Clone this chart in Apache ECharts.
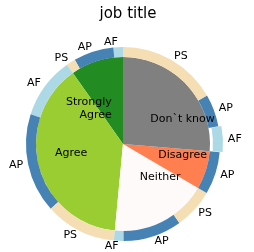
<!DOCTYPE html>
<html>
<head>
<meta charset="utf-8">
<script src="https://cdn.jsdelivr.net/npm/echarts@6/dist/echarts.min.js"></script>
<style>
  html, body { margin: 0; padding: 0; background: #fff; }
  #chart { width: 254px; height: 252px; }
</style>
</head>
<body>
<div id="chart"></div>
<script>
// answers, counter clockwise from 12 o'clock
var answers = ["Strongly\nAgree", "Agree", "Neither", "Disagree", "Don`t know"];
var answerColors = ["#228b22", "#9acd32", "#fffafa", "#ff7f50", "#808080"];

// job title split of every answer (% of respondents)
var jobTitles = ["AF", "AP", "PS"];
var jobColors = ["#add8e6", "#4682b4", "#f5deb3"];
var afShare = [1.6, 10.3, 1.6, 0, 4.3];
var apShare = [6.7, 16.6, 9.8, 7.1, 5.4];
var psShare = [1.5, 11.9, 6.7, 0, 16.7];

// the wedge that is pulled out
var explodeAnswer = 4;
var explodeJob = 0;

var CX = 123, CY = 144, R_IN = 87, R_OUT = 97;
var FONT = "DejaVu Sans";

var shares = [afShare, apShare, psShare];

var innerData = answers.map(function (a, i) {
  return {
    name: a,
    value: afShare[i] + apShare[i] + psShare[i],
    itemStyle: { color: answerColors[i] }
  };
});

// names must be unique or selecting one wedge selects every wedge with that name
var outerData = [];
var outerJob = [];
answers.forEach(function (a, i) {
  jobTitles.forEach(function (j, k) {
    var v = shares[k][i];
    if (!v) return;
    outerJob.push(j);
    outerData.push({
      name: a + " / " + j,
      value: v,
      selected: i === explodeAnswer && k === explodeJob,
      itemStyle: { color: jobColors[k] }
    });
  });
});

var chart = echarts.init(document.getElementById("chart"), null, { renderer: "canvas" });

chart.setOption({
  animation: false,
  title: {
    text: "job title",
    left: CX,
    textAlign: "center",
    top: 2,
    textStyle: { fontFamily: FONT, fontSize: 15, fontWeight: "normal", color: "#000" }
  },
  series: [
    {
      type: "pie",
      center: [CX, CY],
      radius: [0, R_IN],
      startAngle: 90,
      clockwise: false,
      silent: true,
      label: { show: false },
      labelLine: { show: false },
      emphasis: { disabled: true },
      data: innerData
    },
    {
      // invisible copy that only carries the answer labels
      type: "pie",
      center: [CX, CY],
      radius: [0, 68],
      startAngle: 90,
      clockwise: false,
      silent: true,
      itemStyle: { color: "rgba(0,0,0,0)" },
      label: {
        show: true,
        position: "inside",
        formatter: "{b}",
        fontFamily: FONT,
        fontSize: 11,
        color: "#000",
        lineHeight: 13
      },
      labelLayout: function (p) {
        var ax = p.labelRect.x + p.labelRect.width / 2;
        return { align: ax < CX ? "right" : "left" };
      },
      emphasis: { disabled: true },
      data: innerData.map(function (d) { return { name: d.name, value: d.value }; })
    },
    {
      type: "pie",
      center: [CX, CY],
      radius: [R_IN, R_OUT],
      startAngle: 90,
      clockwise: false,
      selectedMode: "multiple",
      selectedOffset: 3,
      avoidLabelOverlap: false,
      silent: true,
      label: {
        show: true,
        position: "outside",
        formatter: function (p) { return outerJob[p.dataIndex]; },
        distanceToLabelLine: 0,
        fontFamily: FONT,
        fontSize: 11,
        color: "#000"
      },
      labelLine: { show: false, length: 5, length2: 0 },
      emphasis: { disabled: true },
      data: outerData
    }
  ]
});
</script>
</body>
</html>
